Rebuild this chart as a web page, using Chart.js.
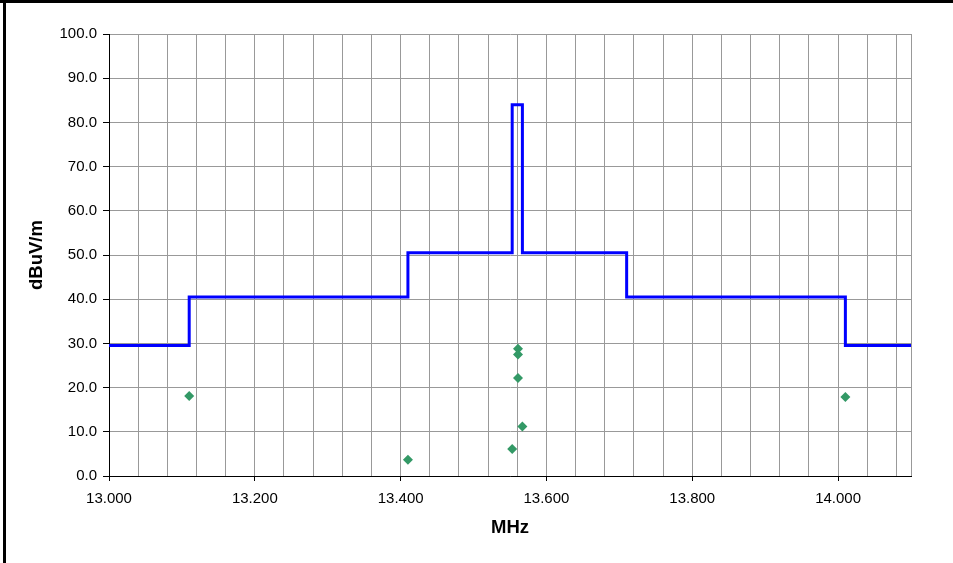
<!DOCTYPE html>
<html>
<head>
<meta charset="utf-8">
<script src="https://cdn.jsdelivr.net/npm/chart.js@4/dist/chart.umd.min.js"></script>
<style>
  body { margin: 0; background: #fff; }
  #wrap { position: relative; width: 953px; height: 563px; }
  #frameTop { position: absolute; left: 0; top: 0; width: 953px; height: 3px; background: #000; }
  #frameLeft { position: absolute; left: 3px; top: 0; width: 3px; height: 563px; background: #000; }
</style>
</head>
<body>
<div id="wrap">
  <canvas id="emiChart" width="953" height="563"></canvas>
  <div id="frameTop"></div>
  <div id="frameLeft"></div>
</div>
<script>
// limit line (step), MHz / dBuV/m
const limitFreq = [13.000, 13.110, 13.410, 13.553, 13.567, 13.710, 14.010, 14.100];
const limitLevel = [29.5, 40.5, 50.5, 84.0, 50.5, 40.5, 29.5, 29.5];

// measured emissions
const measFreq = [13.110, 13.410, 13.553, 13.561, 13.561, 13.561, 13.567, 14.010];
const measLevel = [18.1, 3.7, 6.1, 28.8, 27.5, 22.2, 11.2, 17.9];

const xTickLabels = ['13.000', '13.200', '13.400', '13.600', '13.800', '14.000'];
const yTickLabels = ['0.0', '10.0', '20.0', '30.0', '40.0', '50.0', '60.0', '70.0', '80.0', '90.0', '100.0'];

const xMin = 13.0, xMax = 14.1, xGridStep = 0.04;

function isMajor(v) {
  return xTickLabels.some(function (l) { return Math.abs(parseFloat(l) - v) < 1e-6; });
}

const gridGray = '#999999';
const tickFont = { family: '"Liberation Sans", Arial, sans-serif', size: 15 };
const titleFont = { family: '"Liberation Sans", Arial, sans-serif', size: 18.5, weight: 'bold' };

new Chart(document.getElementById('emiChart'), {
  type: 'scatter',
  data: {
    datasets: [{
      type: 'line',
      label: 'Limit',
      data: limitFreq.map(function (f, i) { return { x: f, y: limitLevel[i] }; }),
      borderColor: '#0000ff',
      borderWidth: 3,
      stepped: 'before',
      pointRadius: 0,
      fill: false,
      clip: 5
    }, {
      label: 'Measured',
      data: measFreq.map(function (f, i) { return { x: f, y: measLevel[i] }; }),
      pointStyle: 'rectRot',
      pointRadius: 5,
      backgroundColor: '#339966',
      borderColor: '#339966',
      borderWidth: 0
    }]
  },
  options: {
    responsive: false,
    animation: false,
    layout: { padding: { left: 0, top: 34, right: 42, bottom: 0 } },
    plugins: { legend: { display: false }, tooltip: { enabled: false } },
    scales: {
      x: {
        type: 'linear',
        min: xMin,
        max: xMax,
        afterBuildTicks: function (axis) {
          const t = [];
          for (let k = 0; xMin + k * xGridStep <= xMax + 1e-9; k++) {
            t.push({ value: Math.round((xMin + k * xGridStep) * 1000) / 1000 });
          }
          t.push({ value: xMax });
          axis.ticks = t;
        },
        afterFit: function (axis) { axis.height = 87; },
        border: { color: '#000', width: 1 },
        grid: {
          color: gridGray,
          tickLength: 5,
          tickColor: function (ctx) { return ctx.tick && isMajor(ctx.tick.value) ? '#000' : 'rgba(0,0,0,0)'; }
        },
        ticks: {
          autoSkip: false,
          maxRotation: 0,
          padding: 9,
          color: '#000',
          font: tickFont,
          callback: function (v) {
            const l = xTickLabels.find(function (s) { return Math.abs(parseFloat(s) - v) < 1e-6; });
            return l || '';
          }
        },
        title: { display: true, text: 'MHz', color: '#000', font: titleFont, padding: { top: 4, bottom: 24 } }
      },
      y: {
        min: 0,
        max: 100,
        afterFit: function (axis) { axis.width = 109; },
        border: { color: '#000', width: 1 },
        grid: { color: gridGray, tickLength: 6, tickColor: '#000' },
        ticks: {
          stepSize: 10,
          padding: 6,
          color: '#000',
          font: tickFont,
          callback: function (v) { return yTickLabels[Math.round(v / 10)]; }
        },
        title: { display: true, text: 'dBuV/m', color: '#000', font: titleFont, padding: { top: 26, bottom: 0 } }
      }
    }
  }
});
</script>
</body>
</html>
